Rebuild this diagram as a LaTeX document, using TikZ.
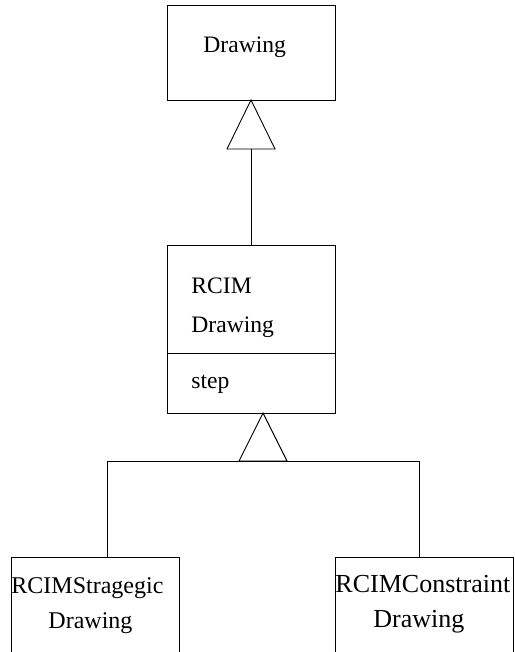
\documentclass[tikz,border=0pt]{standalone}
\usepackage{fontspec}
\setmainfont{Liberation Serif}
\usetikzlibrary{calc}
\begin{document}
\begin{tikzpicture}[x=1pt,y=1pt,
  line width=0.9pt,
  classbox/.style={draw,rectangle,inner sep=0pt,outer sep=0pt},
  lbl/.style={anchor=base west,inner sep=0pt,font=\fontsize{23.6}{28}\selectfont},
  biglbl/.style={anchor=base west,inner sep=0pt,font=\fontsize{26}{30}\selectfont}]
\useasboundingbox (0,0) rectangle (514,-652);
% boxes
\node[classbox,minimum width=168pt,minimum height=95pt] (drawing) at (251,-52.5) {};
\node[classbox,minimum width=168pt,minimum height=168pt] (rcim) at (251,-329) {};
\node[classbox,minimum width=168pt,minimum height=113pt] (strat) at (95,-613.5) {};
\node[classbox,minimum width=178pt,minimum height=113pt] (constr) at (424,-613.5) {};
% divider
\coordinate (dl) at (rcim.west |- 0,-353);
\coordinate (dr) at (rcim.east |- 0,-353);
\draw (dl) -- (dr);
% texts
\node[lbl] (t0) at (203,-53) {Drawing};
\node[lbl] (t1) at (191,-293) {RCIM};
\node[lbl] (t2) at (191,-332) {Drawing};
\node[lbl] (t3) at (191,-388) {step};
\node[lbl,font=\fontsize{24}{28}\selectfont] (t4) at (11,-593) {RCIMStragegic};
\node[lbl,font=\fontsize{24}{28}\selectfont] (t5) at (48,-628) {Drawing};
\node[biglbl] (t6) at (335,-592) {RCIMConstraint};
\node[biglbl] (t7) at (373,-627) {Drawing};
% upper inheritance
\coordinate (a1) at (drawing.south);
\coordinate (b1) at ($(a1)+(0,-49)$);
\draw (a1) -- ($(b1)+(-24,0)$) -- ($(b1)+(24,0)$) -- cycle;
\draw (b1) -- (rcim.north);
% lower inheritance
\coordinate (a2) at ($(rcim.south)+(12,0)$);
\coordinate (b2) at ($(a2)+(0,-48)$);
\draw (a2) -- ($(b2)+(-24,0)$) -- ($(b2)+(24,0)$) -- cycle;
\coordinate (hl) at (107,-461);
\coordinate (hr) at (419,-461);
\draw (hl) -- (hr);
\draw (hl) -- (hl |- strat.north);
\draw (hr) -- (hr |- constr.north);
\end{tikzpicture}
\end{document}
